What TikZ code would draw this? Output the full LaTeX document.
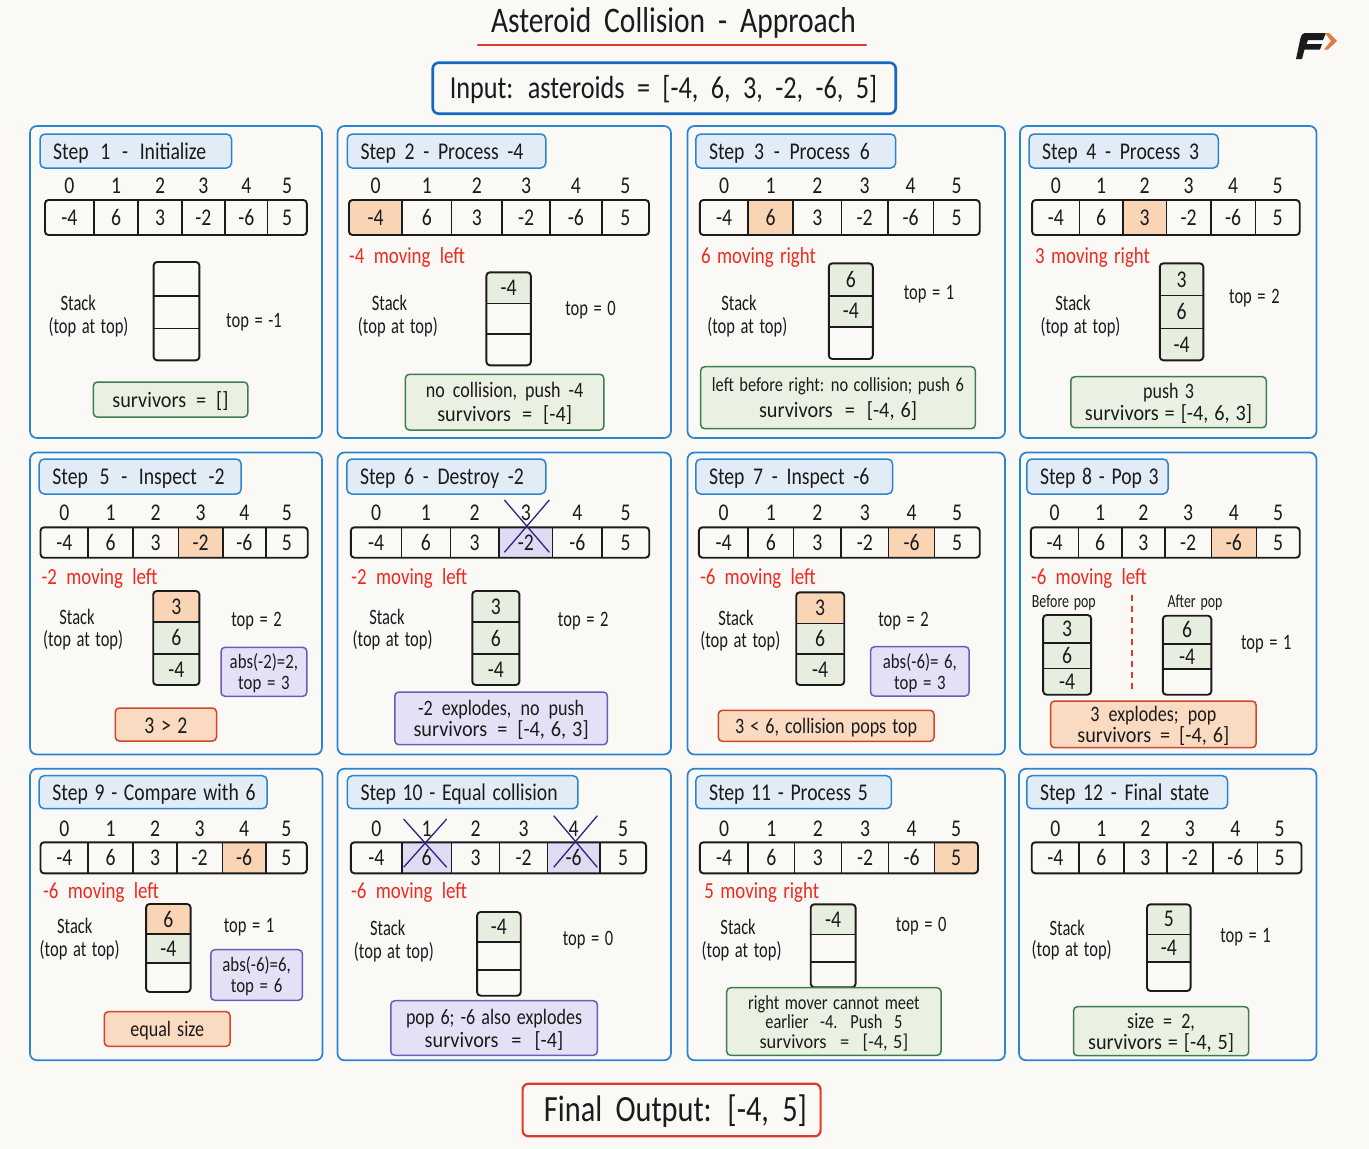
\documentclass[tikz,border=0pt]{standalone}
\usepackage{fontspec}
\setmainfont[FakeStretch=0.82,WordSpace=1.5]{Carlito}
\newfontfamily\nfont[FakeStretch=0.75,WordSpace=1.5]{Carlito}
\newfontfamily\wfont[FakeStretch=0.92,WordSpace=1.3]{Carlito}
\definecolor{pagebg}{HTML}{FAF9F6}
\definecolor{panelblue}{HTML}{2B84D2}
\definecolor{titlefill}{HTML}{E1ECF6}
\definecolor{inputblue}{HTML}{1468C4}
\definecolor{finalred}{HTML}{DF3B2B}
\definecolor{hlorange}{HTML}{F9D5B6}
\definecolor{cellgreen}{HTML}{E7EEDF}
\definecolor{cellpurple}{HTML}{DEDBF3}
\definecolor{boxgreen}{HTML}{EAF1E2}
\definecolor{edgegreen}{HTML}{3F7C50}
\definecolor{boxpurple}{HTML}{E4E1F6}
\definecolor{edgepurple}{HTML}{6B5CBA}
\definecolor{boxorange}{HTML}{FADAC0}
\definecolor{edgeorange}{HTML}{D2452D}
\definecolor{inkblack}{HTML}{1B1B1B}
\definecolor{crossnavy}{HTML}{27277F}
\definecolor{movered}{HTML}{EE2A20}
\definecolor{logoorange}{HTML}{E07B3E}
\newcommand{\fs}[2]{\fontsize{#1}{#2}\selectfont}
\newcommand{\ws}[1]{\spaceskip=\dimexpr\fontdimen2\font+#1pt\relax}
\newcommand{\eqs}[1]{\hspace{#1pt} = \hspace{#1pt}}
\newcommand{\sv}[2]{{\wfont survivors\eqs{#1}#2}}
\tikzset{
  panelbox/.style={draw=panelblue,line width=1.7pt,rounded corners=7pt},
  titlebox/.style={draw=panelblue,line width=1.5pt,fill=titlefill,rounded corners=5pt,inner sep=0pt},
  titletext/.style={inner sep=0pt,anchor=base west,font=\fs{24}{26},text=inkblack},
  plaincell/.style={},
  hotcell/.style={fill=hlorange},
  deadcell/.style={fill=cellpurple},
  livecell/.style={fill=cellgreen},
  cellnode/.style={inner sep=0pt,font=\fs{24}{26},text=inkblack},
  idxnode/.style={inner sep=0pt,font=\fs{24}{26},text=inkblack},
  arrayedge/.style={draw=inkblack,line width=1.9pt,rounded corners=3.5pt},
  divider/.style={draw=inkblack,line width=1.6pt},
  stacklabel/.style={inner sep=0pt,font=\nfont\fs{22}{26},text=inkblack},
  toplabel/.style={inner sep=0pt,yshift=-1.5pt,font=\nfont\fs{22}{26},text=inkblack},
  redlabel/.style={inner sep=0pt,anchor=west,yshift=-1pt,font=\fs{23}{26},text=movered},
  smalllabel/.style={inner sep=0pt,font=\nfont\fs{18.5}{22},text=inkblack},
  msgbase/.style={line width=1.5pt,rounded corners=4pt,inner sep=0pt},
  msgtext/.style={inner sep=0pt,align=center,text=inkblack,yshift=-1.5pt},
  greenmsg/.style={msgbase,draw=edgegreen,fill=boxgreen},
  purplemsg/.style={msgbase,draw=edgepurple,fill=boxpurple},
  orangemsg/.style={msgbase,draw=edgeorange,fill=boxorange},
  crossline/.style={draw=crossnavy,line width=1.3pt},
  headbox/.style={rounded corners=6pt,fill=pagebg,inner sep=0pt},
  headtext/.style={inner sep=0pt,anchor=base,text=inkblack},
}
% panel: name x1 y1 x2 y2
\newcommand{\panel}[5]{\node[panelbox,inner sep=0pt,minimum width={#4-#2},minimum height={#5-#3}] (#1) at ({(#2+#4)/2},{(#3+#5)/2}) {};}
% title: name x1 x2 y1 y2 text
\newcommand{\steptitle}[6]{%
  \pgfmathsetmacro{\tw}{#3-#2}\pgfmathsetmacro{\th}{#5-#4}%
  \node[titlebox,minimum width=\tw pt,minimum height=\th pt] (#1) at ({(#2+#3)/2},{(#4+#5)/2}) {};
  \node[titletext] (#1t) at ({#2+13},{(#4+#5)/2+8}) {#6};}
% array: id ytop ybot ylab xs h1 h2 style
\newcommand{\cells}[8]{%
  \foreach \ci/\cv in {0/-4,1/6,2/3,3/-2,4/-6,5/5}{%
    \pgfmathtruncatemacro{\cj}{\ci+1}%
    \pgfmathsetmacro{\xa}{{#5}[\ci]}%
    \pgfmathsetmacro{\xb}{{#5}[\cj]}%
    \pgfmathsetmacro{\xm}{(\xa+\xb)/2}%
    \pgfmathsetmacro{\cw}{\xb-\xa-1.6}%
    \pgfmathsetmacro{\ch}{#3-#2-1.6}%
    \def\cf{plaincell}%
    \ifnum\ci=#6\relax\def\cf{#8}\fi
    \ifnum\ci=#7\relax\def\cf{#8}\fi
    \node[cellnode,\cf,minimum width=\cw pt,minimum height=\ch pt] (#1-\ci) at (\xm,{(#2+#3)/2}) {\cv};
    \node[idxnode] (#1-i\ci) at (\xm,#4) {\ci};
    \ifnum\ci>0\relax\draw[divider] (\xa,#2) -- (\xa,#3);\fi
  }%
  \pgfmathsetmacro{\xl}{{#5}[0]}\pgfmathsetmacro{\xr}{{#5}[6]}%
  \draw[arrayedge] (\xl,#2) rectangle (\xr,#3);}
% stack: id x1 x2 ytop ybot list of ya/yb/value/style
\newcommand{\stk}[6]{%
  \foreach \ya/\yb/\sv/\sf [count=\sc] in {#6}{%
    \pgfmathsetmacro{\sh}{\yb-\ya-1.6}\pgfmathsetmacro{\sw}{#3-#2-1.6}%
    \node[cellnode,\sf,minimum width=\sw pt,minimum height=\sh pt] (#1-\sc) at ({(#2+#3)/2},{(\ya+\yb)/2}) {\sv};
    \ifnum\sc>1\relax\draw[divider] (#2,\ya) -- (#3,\ya);\fi
  }%
  \draw[arrayedge] (#2,#4) rectangle (#3,#5);}
% message box: name style x1 x2 y1 y2 font text
\newcommand{\msg}[8]{%
  \pgfmathsetmacro{\mw}{#4-#3}\pgfmathsetmacro{\mh}{#6-#5}%
  \node[#2,minimum width=\mw pt,minimum height=\mh pt] (#1) at ({(#3+#4)/2},{(#5+#6)/2}) {};
  \node[msgtext,font=#7] (#1t) at ({(#3+#4)/2},{(#5+#6)/2}) {#8};}
% cross: id x1 x2 y1 y2
\newcommand{\crossout}[5]{%
  \coordinate (#1a) at (#2,#4);\coordinate (#1b) at (#3,#5);\coordinate (#1c) at (#3,#4);\coordinate (#1d) at (#2,#5);
  \draw[crossline] (#1a) -- (#1b);\draw[crossline] (#1c) -- (#1d);}
\newcommand{\stacktext}[5]{%
  \node[stacklabel] (#1s) at (#2,#3) {Stack};
  \node[stacklabel] (#1p) at (#4,#5) {(top at top)};}
\begin{document}
\begin{tikzpicture}[x=1pt,y=-1pt]
\useasboundingbox (0,0) rectangle (1369,1149);
\fill[pagebg] (0,0) rectangle (1369,1149);
% header
\node[headtext,font=\fs{36}{40}] (heading) at (673.5,32) {\ws{3}Asteroid Collision - Approach};
\coordinate (ula) at (478,45);\coordinate (ulb) at (866,45);
\draw[finalred,line width=2.6pt,line cap=round] (ula) -- (ulb);
\node[headbox,draw=inputblue,line width=2.6pt,minimum width=463pt,minimum height=51pt] (inputbox) at (664.2,88.2) {};
\node[headtext,font=\fs{32}{36}] (inputtext) at (663.5,98.5) {\ws{3.5}Input: asteroids = [-4, 6, 3, -2, -6, 5]};
\node[headbox,draw=finalred,line width=2.2pt,minimum width=298pt,minimum height=52.6pt] (finalbox) at (671.6,1110) {};
\node[headtext,font=\fs{37}{40}] (finaltext) at (675.5,1121) {\ws{3}Final Output: [-4, 5]};
% logo
\fill[inkblack] (1305,33) -- (1326,33) -- (1323,40) -- (1308,40) -- (1306.5,44) -- (1322,44) -- (1320,49.5) -- (1304.5,49.5) -- (1302,59) -- (1296,59) -- (1300.5,38) .. controls (1301.2,35) and (1302.5,33) .. (1305,33) -- cycle;
\fill[logoorange] (1325,33) -- (1329,33) -- (1337,41) -- (1328,49.5) -- (1324,49.5) -- (1331,41) -- cycle;

% ---------- panels
\panel{p1}{30}{126}{322}{438}
\panel{p2}{337.5}{126}{671}{438}
\panel{p3}{687.5}{126}{1005}{438}
\panel{p4}{1020}{126}{1316.5}{438}
\panel{p5}{30}{452.5}{322}{754.5}
\panel{p6}{337.5}{452.5}{671}{754.5}
\panel{p7}{687.5}{452.5}{1005}{754.5}
\panel{p8}{1020}{452.5}{1316.5}{754.5}
\panel{p9}{30}{768.7}{322.5}{1060.3}
\panel{p10}{337.5}{768.7}{671}{1060.3}
\panel{p11}{687.5}{768.7}{1005}{1060.3}
\panel{p12}{1019}{768.7}{1316.5}{1060.3}

% ---------- titles
\steptitle{t1}{40}{231.5}{134}{168}{\ws{5}Step 1 - Initialize}
\steptitle{t2}{347.3}{545.8}{134}{168}{\ws{2}Step 2 - Process -4}
\steptitle{t3}{695.8}{895.7}{134}{168}{\ws{3}Step 3 - Process 6}
\steptitle{t4}{1029}{1218.3}{134}{168}{\ws{2}Step 4 - Process 3}
\steptitle{t5}{39.2}{241.2}{459}{494}{\ws{5}Step 5 - Inspect -2}
\steptitle{t6}{346.8}{545.8}{459}{494}{\ws{2}Step 6 - Destroy -2}
\steptitle{t7}{695.8}{892.6}{459}{494}{\ws{2}Step 7 - Inspect -6}
\steptitle{t8}{1026.8}{1168.1}{459}{494}{Step 8 - Pop 3}
\steptitle{t9}{39.2}{267.2}{775.7}{808.7}{Step 9 - Compare with 6}
\steptitle{t10}{347.3}{577.9}{775.7}{808.7}{Step 10 - Equal collision}
\steptitle{t11}{695.8}{891.3}{775.7}{808.7}{Step 11 - Process 5}
\steptitle{t12}{1026.8}{1227.5}{775.7}{808.7}{\ws{1}Step 12 - Final state}

% ---------- arrays
\cells{a1}{200}{235}{186}{45,93.8,138.2,181.8,224.9,267.6,306.8}{-1}{-1}{plaincell}
\cells{a2}{200}{235}{186}{349,402,451.6,502,550,601.7,649}{0}{-1}{hotcell}
\cells{a3}{200}{235}{186}{699.8,748.2,793.1,841.5,887.7,933.5,979.7}{1}{-1}{hotcell}
\cells{a4}{200}{235}{186}{1032.1,1079.6,1122.8,1166.4,1210.8,1255.3,1299.7}{2}{-1}{hotcell}
\cells{a5}{527.3}{557.7}{513}{40.5,88,133,178.3,222.7,265.8,307.7}{3}{-1}{hotcell}
\cells{a6}{527.3}{557.7}{513}{350.8,401.4,450.3,499.1,552.4,602.1,649.2}{3}{-1}{deadcell}
\cells{a7}{527.3}{557.7}{513}{698.9,748.2,793.6,841.1,888.6,934.4,979.7}{4}{-1}{hotcell}
\cells{a8}{527.3}{557.7}{513}{1030.8,1078.3,1121.9,1165,1211.3,1256.6,1299.7}{4}{-1}{hotcell}
\cells{a9}{842.3}{873.3}{829}{40.5,88,133,177,222.3,265.8,306.8}{4}{-1}{hotcell}
\cells{a10}{842.3}{873.3}{829}{350.8,401.8,451.6,499.6,547.5,599.9,646.1}{1}{4}{deadcell}
\cells{a11}{842.3}{873.3}{829}{699.8,748.2,794.4,841.5,888.6,934.4,978}{5}{-1}{hotcell}
\cells{a12}{842.3}{873.3}{829}{1031.7,1079.2,1123.7,1166.8,1213,1257.5,1301.5}{-1}{-1}{plaincell}

% ---------- crosses
\crossout{x6}{504.4}{549.3}{500}{552.3}
\crossout{xa}{403.6}{446.7}{819}{867.3}
\crossout{xb}{553.7}{597.3}{815.7}{867.3}

% ---------- stacks
\stk{s1}{153.6}{199.4}{262}{360.3}{262/295.7//plaincell,295.7/328.3//plaincell,328.3/360.3//plaincell}
\stk{s2}{486.4}{530.8}{272.3}{365.3}{272.3/303.3/-4/livecell,303.3/333.7//plaincell,333.7/365.3//plaincell}
\stk{s3}{828.8}{872.8}{263.3}{359}{263.3/295.7/6/livecell,295.7/326.7/-4/livecell,326.7/359//plaincell}
\stk{s4}{1159.8}{1203.3}{263.3}{360.3}{263.3/295.3/3/livecell,295.3/328.3/6/livecell,328.3/360.3/-4/livecell}
\stk{s5}{153.2}{199.4}{591}{685}{591/622/3/hotcell,622/653.7/6/livecell,653.7/685/-4/livecell}
\stk{s6}{472.3}{519.4}{591}{685}{591/622/3/livecell,622/654/6/livecell,654/685/-4/livecell}
\stk{s7}{796.2}{844.2}{592.3}{685}{592.3/623.3/3/hotcell,623.3/654/6/livecell,654/685/-4/livecell}
\stk{s8a}{1043.1}{1091.1}{615}{694.7}{615/642.7/3/livecell,642.7/668.3/6/livecell,668.3/694.7/-4/livecell}
\stk{s8b}{1162.8}{1211.3}{615.7}{694.7}{615.7/644/6/livecell,644/669/-4/livecell,669/694.7//plaincell}
\stk{s9}{146.1}{190.6}{904}{992}{904/934/6/hotcell,934/963/-4/livecell,963/992//plaincell}
\stk{s10}{477.1}{520.7}{912}{995.7}{912/941.7/-4/livecell,941.7/969.7//plaincell,969.7/995.7//plaincell}
\stk{s11}{810.7}{855.6}{904.3}{987.3}{904.3/934.3/-4/livecell,934.3/962//plaincell,962/987.3//plaincell}
\stk{s12}{1147}{1190.6}{904.3}{991}{904.3/934.3/5/livecell,934.3/962/-4/livecell,962/991//plaincell}

% ---------- stack captions
\stacktext{c1}{78.3}{302.7}{88.5}{327}
\stacktext{c2}{389.5}{303.3}{397.9}{327.3}
\stacktext{c3}{739}{303}{747.3}{327.3}
\stacktext{c4}{1073}{303}{1080.5}{327.3}
\stacktext{c5}{77}{616.7}{83.2}{640}
\stacktext{c6}{386.9}{617.3}{392.6}{640.3}
\stacktext{c7}{735.9}{618.3}{740.3}{641.7}
\stacktext{c9}{74.8}{926}{79.7}{950.7}
\stacktext{c10}{387.8}{928.3}{393.9}{952.3}
\stacktext{c11}{738.1}{927.3}{741.6}{951}
\stacktext{c12}{1067.3}{927.7}{1071.7}{950.7}

% ---------- top labels
\node[toplabel] (top1) at (254,321) {top = -1};
\node[toplabel] (top2) at (590.6,308.3) {top = 0};
\node[toplabel] (top3) at (929.1,292.3) {top = 1};
\node[toplabel] (top4) at (1254.4,297) {top = 2};
\node[toplabel] (top5) at (256.6,620) {top = 2};
\node[toplabel] (top6) at (583.2,620) {top = 2};
\node[toplabel] (top7) at (903.6,620) {top = 2};
\node[toplabel] (top8) at (1266.3,642.7) {top = 1};
\node[toplabel] (top9) at (249.1,926) {top = 1};
\node[toplabel] (top10) at (588,938.3) {top = 0};
\node[toplabel] (top11) at (921.2,924.3) {top = 0};
\node[toplabel] (top12) at (1245.6,935.7) {top = 1};

% ---------- moving labels
\node[redlabel] (m2) at (349,256.7) {\ws{3}-4 moving left};
\node[redlabel] (m3) at (701,256.7) {6 moving right};
\node[redlabel] (m4) at (1035,256.7) {3 moving right};
\node[redlabel] (m5) at (41.4,577) {\ws{3}-2 moving left};
\node[redlabel] (m6) at (351.2,577) {\ws{3}-2 moving left};
\node[redlabel] (m7) at (699.8,577) {\ws{3}-6 moving left};
\node[redlabel] (m8) at (1030.8,577) {\ws{3}-6 moving left};
\node[redlabel] (m9) at (43,891.7) {\ws{3}-6 moving left};
\node[redlabel] (m10) at (351,891.7) {\ws{3}-6 moving left};
\node[redlabel] (m11) at (704.2,891.7) {5 moving right};

% ---------- step 8 extras
\node[smalllabel] (before) at (1063.8,602.3) {Before pop};
\node[smalllabel] (after) at (1195,603) {After pop};
\coordinate (da) at (1132,595);\coordinate (db) at (1132,693.5);
\draw[finalred,line width=1.5pt,dash pattern=on 6pt off 5pt] (da) -- (db);

% ---------- message boxes
\msg{b1}{greenmsg}{93.3}{247.8}{382}{417}{\fs{22}{24}}{\sv{4}{[]}}
\msg{b2}{greenmsg}{405.4}{603.9}{374.3}{430}{\fs{22}{24}}{\ws{2}no collision, push -4\\\sv{5}{[-4]}}
\msg{b3}{greenmsg}{700.7}{975.3}{366.7}{428.7}{\fs{20}{26}}{left before right: no collision; push 6\\{\fs{22}{26}\sv{6}{[-4, 6]}}}
\msg{b4}{greenmsg}{1070.8}{1266.3}{376.7}{427.7}{\fs{22}{22}}{push 3\\\sv{0}{[-4, 6, 3]}}
\msg{b5n}{purplemsg}{221}{306.8}{647.3}{696.3}{\fs{20.5}{21}}{abs(-2)=2,\\top = 3}
\msg{b5}{orangemsg}{115.3}{216.5}{708}{741}{\fs{24}{26}}{3 > 2}
\msg{b6}{purplemsg}{394.8}{607.4}{692}{744.7}{\fs{22}{21}}{\ws{3}-2 explodes, no push\\\sv{4}{[-4, 6, 3]}}
\msg{b7n}{purplemsg}{870.6}{969.2}{646.7}{696}{\fs{20.5}{21}}{abs(-6)= 6,\\top = 3}
\msg{b7}{orangemsg}{718.3}{934}{710.3}{741.3}{\fs{22}{24}}{3 < 6, collision pops top}
\msg{b8}{orangemsg}{1050.6}{1256.1}{701}{747.7}{\fs{22}{21}}{\ws{3}3 explodes; pop\\\sv{3}{[-4, 6]}}
\msg{b9n}{purplemsg}{210.8}{302.4}{949.7}{1000.3}{\fs{20.5}{21}}{abs(-6)=6,\\top = 6}
\msg{b9}{orangemsg}{104.3}{230.2}{1011.7}{1046.3}{\fs{22}{24}}{equal size}
\msg{b10}{purplemsg}{390.8}{597.3}{1000.7}{1055.3}{\fs{22}{23}}{pop 6; -6 also explodes\\\sv{7}{[-4]}}
\msg{b11}{greenmsg}{726.7}{941}{987.7}{1055.3}{\fs{20}{19.5}}{right mover cannot meet\\\ws{6}earlier -4. Push 5\\\sv{8}{[-4, 5]}}
\msg{b12}{greenmsg}{1073.5}{1248.7}{1006.7}{1055.7}{\fs{22}{21}}{size\eqs{3}2,\\\sv{0}{[-4, 5]}}
\end{tikzpicture}
\end{document}
